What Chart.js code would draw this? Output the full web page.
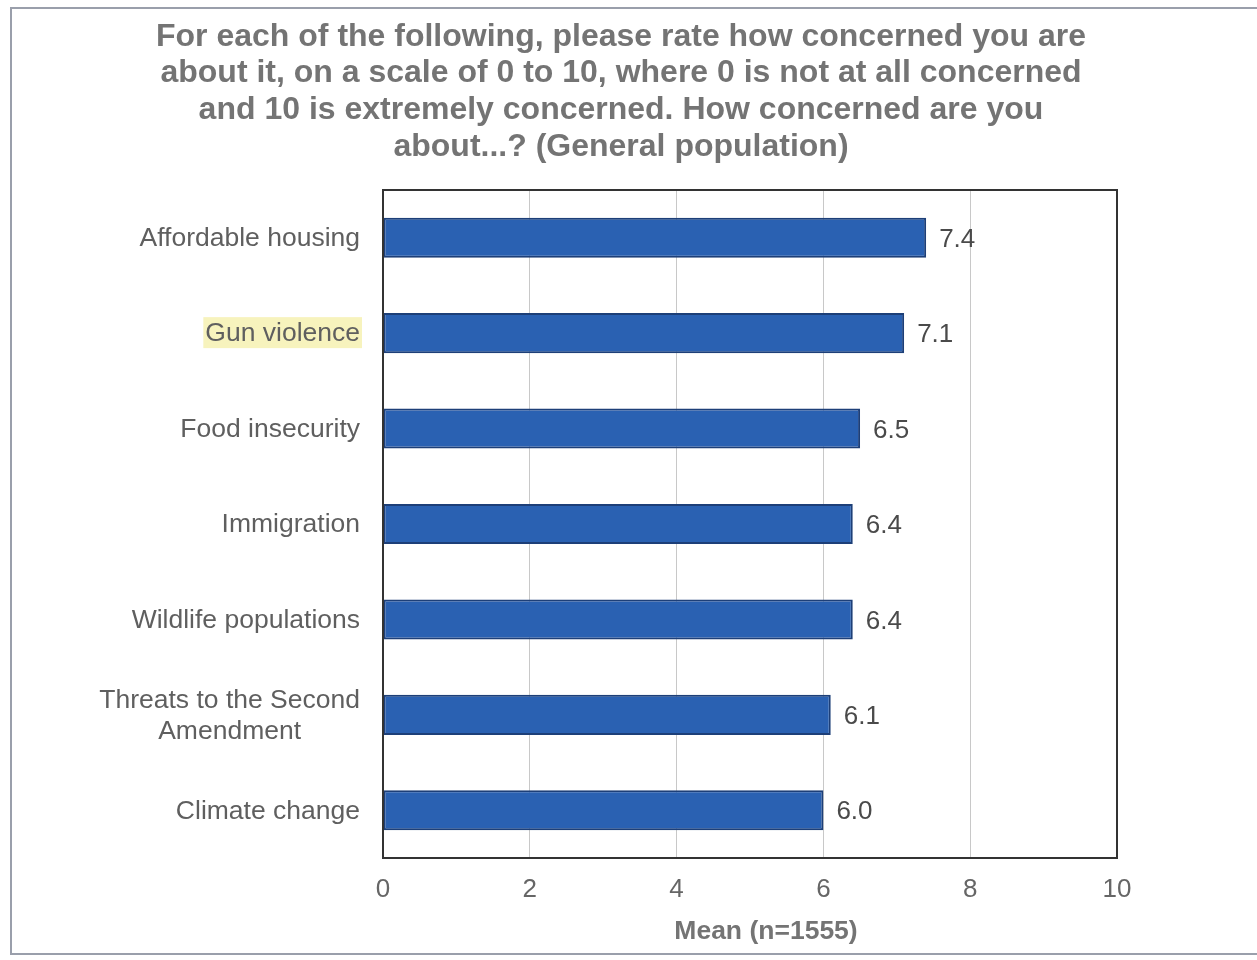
<!DOCTYPE html>
<html>
<head>
<meta charset="utf-8">
<title>Concern ratings</title>
<script src="https://cdn.jsdelivr.net/npm/chart.js@4.4.1/dist/chart.umd.min.js"></script>
<style>
  html, body { margin: 0; padding: 0; background: #fff; }
  #wrap { position: relative; width: 1257px; height: 960px; }
  #frame { position: absolute; left: 10px; top: 7px; width: 1260px; height: 948px; border: 2px solid #9a9fab; box-sizing: border-box; }
</style>
</head>
<body>
<div id="wrap">
  <div id="frame"></div>
  <canvas id="myChart" width="1257" height="960"></canvas>
</div>
<script>
// survey topics, top to bottom
const topics = [
  "Affordable housing",
  "Gun violence",
  "Food insecurity",
  "Immigration",
  "Wildlife populations",
  ["Threats to the Second", "Amendment"],
  "Climate change"
];
const means = [7.4, 7.1, 6.5, 6.4, 6.4, 6.1, 6.0];
const xTicks = [0, 2, 4, 6, 8, 10];
const highlighted = "Gun violence";

const titleLines = [
  "For each of the following, please rate how concerned you are",
  "about it, on a scale of 0 to 10, where 0 is not at all concerned",
  "and 10 is extremely concerned. How concerned are you",
  "about...? (General population)"
];
const axisTitle = "Mean (n=1555)";

const FONT = "Liberation Sans";

// title, topic labels, value labels and axis title
const textPlugin = {
  id: 'textPlugin',
  afterDraw(chart) {
    const ctx = chart.ctx;
    const area = chart.chartArea;
    const yScale = chart.scales.y;
    ctx.save();

    // heading
    ctx.fillStyle = '#747474';
    ctx.font = 'bold 32px "' + FONT + '"';
    ctx.textAlign = 'center';
    ctx.textBaseline = 'middle';
    titleLines.forEach((line, i) => {
      ctx.fillText(line, 621, 37 + i * 36.6);
    });

    // topic labels on the left
    ctx.font = '26.5px "' + FONT + '"';
    topics.forEach((t, i) => {
      const y = yScale.getPixelForValue(i);
      const lines = Array.isArray(t) ? t : [t];
      const widths = lines.map(l => ctx.measureText(l).width);
      const maxW = Math.max(...widths);
      const right = area.left - 23;
      const lh = 31;
      if (t === highlighted) {
        ctx.fillStyle = '#f7f3bd';
        ctx.fillRect(right - maxW - 2, y - 16, maxW + 4, 31);
      }
      ctx.fillStyle = '#5f5f5f';
      ctx.textAlign = 'center';
      lines.forEach((l, k) => {
        const ly = y + 1 + (k - (lines.length - 1) / 2) * lh;
        ctx.fillText(l, right - maxW / 2, ly);
      });
    });

    // values next to the bars
    ctx.font = '26px "' + FONT + '"';
    ctx.fillStyle = '#4a4a4a';
    ctx.textAlign = 'left';
    const meta = chart.getDatasetMeta(0);
    meta.data.forEach((bar, i) => {
      ctx.fillText(means[i].toFixed(1), bar.x + 13, bar.y + 2);
    });

    // x axis title
    ctx.font = 'bold 26.5px "' + FONT + '"';
    ctx.fillStyle = '#747474';
    ctx.textAlign = 'center';
    ctx.fillText(axisTitle, 766, 932);

    // plot frame
    ctx.strokeStyle = '#333';
    ctx.lineWidth = 2;
    ctx.strokeRect(area.left, area.top, area.right - area.left, area.bottom - area.top);
    ctx.restore();
  }
};

function draw() {
  new Chart("myChart", {
    type: 'bar',
    data: {
      labels: topics,
      datasets: [{
        data: means,
        backgroundColor: '#2a61b2',
        borderColor: '#1d3f78',
        borderWidth: 2,
        borderSkipped: false,
        barPercentage: 0.42,
        categoryPercentage: 1
      }]
    },
    plugins: [textPlugin],
    options: {
      indexAxis: 'y',
      responsive: false,
      animation: false,
      layout: { padding: { top: 190, right: 140, left: 0, bottom: 0 } },
      plugins: {
        legend: { display: false },
        title: { display: false },
        tooltip: { enabled: false }
      },
      scales: {
        x: {
          min: 0,
          max: 10,
          afterBuildTicks(scale) {
            scale.ticks = xTicks.map(v => ({ value: v }));
          },
          afterFit(scale) { scale.height = 102; },
          grid: { color: '#c8c8c8', lineWidth: 1, drawTicks: false },
          border: { display: false },
          ticks: {
            color: '#666',
            font: { family: FONT, size: 26 },
            padding: 16
          }
        },
        y: {
          afterFit(scale) { scale.width = 383; },
          grid: { display: false, drawTicks: false },
          border: { display: false },
          ticks: { display: false }
        }
      }
    }
  });
}

Promise.all([
  document.fonts.load('23px "' + FONT + '"'),
  document.fonts.load('bold 28px "' + FONT + '"')
]).then(draw, draw);
</script>
</body>
</html>
